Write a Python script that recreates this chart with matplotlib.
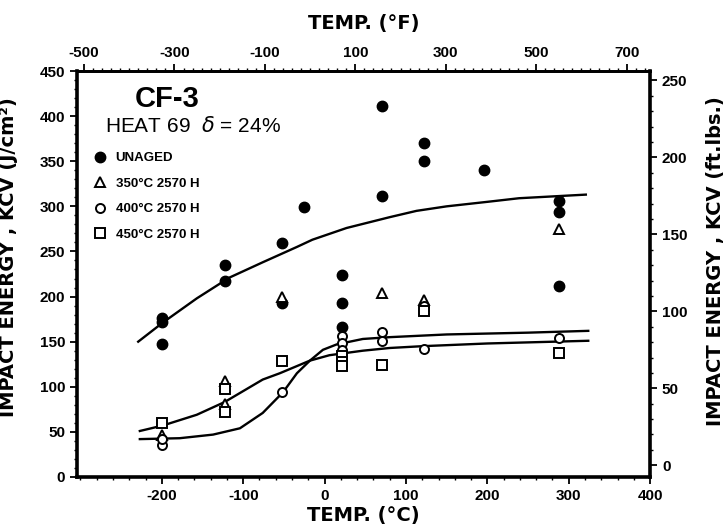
import matplotlib
matplotlib.use("Agg")
import matplotlib.pyplot as plt
from matplotlib.ticker import MultipleLocator

# --- Data (temperature in C, impact energy KCV in J/cm2) ---
unaged_t = [-200, -200, -200, -122, -122, -52, -52, -25, 22, 22, 22, 70, 70, 122, 122, 196, 288, 288, 288]
unaged_e = [176, 172, 147, 235, 217, 259, 193, 299, 224, 193, 166, 411, 312, 370, 350, 340, 306, 294, 212]

aged350_t = [-200, -122, -122, -52, 70, 122, 288]
aged350_e = [47, 106, 81, 200, 204, 196, 275]

aged400_t = [-200, -200, -52, 22, 22, 22, 70, 70, 122, 122, 288]
aged400_e = [36, 42, 94, 156, 149, 141, 161, 151, 190, 142, 154]

aged450_t = [-200, -122, -122, -52, 22, 22, 22, 70, 122, 288]
aged450_e = [60, 98, 72, 129, 134, 128, 123, 124, 184, 137]

# fitted curves
curve_unaged_t = [-229, -199, -157, -117, -76, -34, -15, 27, 80, 113, 150, 200, 239, 280, 321]
curve_unaged_e = [150, 171, 198, 221, 238, 255, 263, 276, 288, 295, 300, 305, 309, 311, 313]

curve_steep_t = [-227, -178, -137, -104, -76, -51, -34, -18, -2, 15, 47, 80, 150, 250, 324]
curve_steep_e = [42, 43, 47, 54, 71, 94, 115, 129, 141, 147, 153, 155, 158, 160, 162]

curve_gentle_t = [-227, -199, -157, -123, -76, -55, -18, 6, 47, 80, 120, 200, 324]
curve_gentle_e = [51, 57, 69, 83, 108, 115, 129, 135, 140, 143, 145, 148, 151]

x_ticks = [-200, -100, 0, 100, 200, 300, 400]
y_ticks = [0, 50, 100, 150, 200, 250, 300, 350, 400, 450]
f_ticks = [-500, -300, -100, 100, 300, 500, 700]
ft_ticks = [0, 50, 100, 150, 200, 250]

BOLD = "Liberation Sans"
WIDE = "DejaVu Sans"

plt.rcParams['font.family'] = [BOLD, 'DejaVu Sans']
plt.rcParams['axes.unicode_minus'] = False

fig = plt.figure(figsize=(7.28, 5.30), dpi=100)
ax = fig.add_axes([0.106, 0.10, 0.787, 0.766])

ax.plot(curve_unaged_t, curve_unaged_e, color="black", lw=1.7)
ax.plot(curve_steep_t, curve_steep_e, color="black", lw=1.7)
ax.plot(curve_gentle_t, curve_gentle_e, color="black", lw=1.7)

ax.plot(unaged_t, unaged_e, "o", ms=7.5, color="black", label="UNAGED")
ax.plot(aged350_t, aged350_e, "^", ms=6.5, mfc="white", mec="black", mew=1.4,
        ls="none", label="350°C 2570 H")
ax.plot(aged400_t, aged400_e, "o", ms=6.5, mfc="white", mec="black", mew=1.4,
        ls="none", label="400°C 2570 H")
ax.plot(aged450_t, aged450_e, "s", ms=6.5, mfc="white", mec="black", mew=1.4,
        ls="none", label="450°C 2570 H")

ax.set_xlim(-304, 400)
ax.set_ylim(0, 450)
ax.set_xticks(x_ticks)
ax.set_yticks(y_ticks)
ax.xaxis.set_minor_locator(MultipleLocator(20))
ax.yaxis.set_minor_locator(MultipleLocator(10))
ax.tick_params(axis="both", which="major", direction="out", length=5, width=1.3,
               labelsize=11)
ax.tick_params(axis="both", which="minor", direction="out", length=2.5, width=1)
ax.tick_params(axis="y", right=False)
for lab in ax.get_xticklabels() + ax.get_yticklabels():
    lab.set_fontweight("bold")

for side, w in [("left", 2.6), ("bottom", 2.6), ("right", 2.6), ("top", 2.0)]:
    ax.spines[side].set_linewidth(w)

ax.set_xlabel("TEMP. (°C)", fontsize=14, fontweight="bold", family=WIDE, labelpad=2)

# top axis in Fahrenheit
top = ax.secondary_xaxis("top", functions=(lambda c: c * 9 / 5 + 32, lambda f: (f - 32) * 5 / 9))
top.set_xticks(f_ticks)
top.xaxis.set_minor_locator(MultipleLocator(20))
top.tick_params(which="major", direction="out", length=5, width=1.3, labelsize=11, pad=3)
top.tick_params(which="minor", direction="out", length=2.5, width=1)
for lab in top.get_xticklabels():
    lab.set_fontweight("bold")
top.set_xlabel("TEMP. (°F)", fontsize=14, fontweight="bold", family=WIDE, labelpad=12)
top.spines["top"].set_linewidth(2.0)

# right axis in ft.lbs (scan is offset a little against the J/cm2 scale)
right = ax.secondary_yaxis("right", functions=(lambda v: (v - 13) * 0.586, lambda f: f / 0.586 + 13))
right.set_yticks(ft_ticks)
right.yaxis.set_minor_locator(MultipleLocator(10))
right.tick_params(which="major", direction="out", length=5, width=1.3, labelsize=11)
right.tick_params(which="minor", direction="out", length=2.5, width=1)
for lab in right.get_yticklabels():
    lab.set_fontweight("bold")

fig.text(0.983, 0.508, "IMPACT ENERGY , KCV (ft.lbs.)", rotation=90, fontsize=14,
         fontweight="bold", family=WIDE, ha="center", va="center")
fig.text(0.012, 0.515, "IMPACT ENERGY , KCV (J/cm²)", rotation=90, fontsize=14,
         fontweight="bold", family=WIDE, ha="center", va="center")

ax.text(0.157, 0.93, "CF-3", transform=ax.transAxes, fontsize=21, fontweight="bold",
        ha="center", va="center")
ax.text(0.048, 0.865, "HEAT 69  $\\delta$ = 24%", transform=ax.transAxes, fontsize=15,
        ha="left", va="center")

leg = ax.legend(loc="upper left", bbox_to_anchor=(0.028, 0.800), frameon=False,
                borderpad=0, borderaxespad=0, handlelength=1.0, handletextpad=0.7,
                labelspacing=1.0, prop={"family": BOLD, "weight": "bold", "size": 9.5})

fig.savefig("out.png", dpi=100, facecolor="white")
